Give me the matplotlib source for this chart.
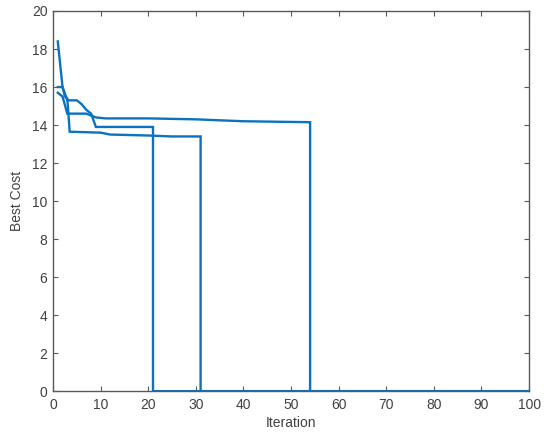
import numpy as np
import matplotlib
matplotlib.use("Agg")
import matplotlib.pyplot as plt

# best cost per iteration for three runs
run1_iter = [1, 2, 3, 7, 8, 9, 11, 20, 30, 35, 40, 54, 54, 100]
run1_cost = [15.7, 15.5, 14.6, 14.6, 14.5, 14.4, 14.35, 14.35, 14.3, 14.25, 14.2, 14.15, 0, 0]

run2_iter = [1, 2, 3, 5, 6, 7, 8, 9, 21, 21, 100]
run2_cost = [16.0, 16.0, 15.3, 15.3, 15.1, 14.8, 14.6, 13.9, 13.9, 0, 0]

run3_iter = [1, 2, 2.5, 3, 3.5, 10, 12, 20, 25, 31, 31, 100]
run3_cost = [18.4, 16.0, 15.5, 15.4, 13.65, 13.6, 13.5, 13.45, 13.4, 13.4, 0, 0]

LINE_COLOR = "#0a72c0"
AX_COLOR = "#5a5a5a"
TXT_COLOR = "#404040"

plt.rcParams["font.family"] = ["Liberation Sans", "DejaVu Sans"]
plt.rcParams["font.size"] = 10

fig = plt.figure(figsize=(5.5, 4.4), dpi=100)
ax = fig.add_axes([0.0964, 0.111, 0.8656, 0.864])

for xs, ys in [(run1_iter, run1_cost), (run2_iter, run2_cost), (run3_iter, run3_cost)]:
    ax.plot(xs, ys, '-', color=LINE_COLOR, linewidth=1.7, solid_joinstyle="miter")

ax.set_xlim(0, 100)
ax.set_ylim(0, 20)
ax.set_xticks(np.arange(0, 101, 10))
ax.set_yticks(np.arange(0, 21, 2))
ax.tick_params(direction="in", top=True, right=True, length=3.5,
               color=AX_COLOR, labelcolor=TXT_COLOR)
ax.tick_params(axis="x", pad=5)
ax.tick_params(axis="y", pad=4)
for sp in ax.spines.values():
    sp.set_color(AX_COLOR)
    sp.set_linewidth(1.0)

ax.set_xlabel("Iteration", color=TXT_COLOR, labelpad=3)
ax.set_ylabel("Best Cost", color=TXT_COLOR, labelpad=6)

fig.savefig("out.png", dpi=100)
